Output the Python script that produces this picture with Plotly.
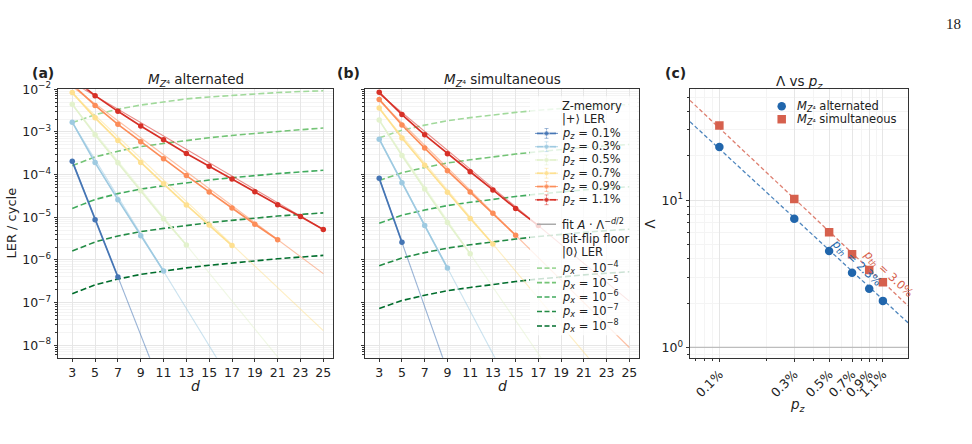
import plotly.graph_objects as go
import numpy as np

W, H = 972, 444
FONT = "DejaVu Sans"

# ---------------- data ----------------
d_vals = [3, 5, 7, 9, 11, 13, 15, 17, 19, 21, 23, 25]
pz_labels = ["0.1%", "0.3%", "0.5%", "0.7%", "0.9%", "1.1%"]
pz_colors = ["#4575b4", "#9ecae1", "#e3f2cd", "#fee090", "#fc8d59", "#d73027"]

# panel (a): M_Z4 alternated, LER per cycle (data points start at d=3)
alt_p01 = [2.05e-4, 8.8e-6, 4.0e-7]
alt_p03 = [1.7e-3, 1.92e-4, 2.6e-5, 3.7e-6, 5.5e-7]
alt_p05 = [4.5e-3, 8.6e-4, 1.89e-4, 4.2e-5, 9.3e-6, 2.25e-6]
alt_p07 = [8.4e-3, 2.15e-3, 6.3e-4, 1.92e-4, 6.1e-5, 1.95e-5, 6.6e-6, 2.18e-6]
alt_p09 = [1.3e-2, 4.2e-3, 1.51e-3, 5.9e-4, 2.37e-4, 9.5e-5, 3.9e-5, 1.65e-5, 6.9e-6, 2.98e-6]
alt_p11 = [1.9e-2, 7.1e-3, 3.05e-3, 1.38e-3, 6.6e-4, 3.14e-4, 1.58e-4, 7.9e-5, 4.0e-5, 1.97e-5, 1.04e-5, 5.2e-6]
# fit A*Lambda^(-d/2), values at d=3 and d=25
alt_fit_d3 = [2.14e-4, 1.7e-3, 4.3e-3, 7.9e-3, 1.15e-2, 1.45e-2]
alt_fit_d25 = [2.2e-19, 4.2e-13, 2.6e-10, 2.2e-8, 4.8e-7, 5.2e-6]

# panel (b): M_Z4 simultaneous
sim_p01 = [8.2e-5, 2.6e-6]
sim_p03 = [6.8e-4, 6.5e-5, 6.4e-6, 6.5e-7]
sim_p05 = [1.9e-3, 2.8e-4, 4.6e-5, 7.6e-6, 1.4e-6]
sim_p07 = [3.65e-3, 7.2e-4, 1.66e-4, 3.85e-5, 9.4e-6, 2.37e-6]
sim_p09 = [5.8e-3, 1.46e-3, 4.2e-4, 1.24e-4, 3.9e-5, 1.24e-5, 3.8e-6]
sim_p11 = [8.5e-3, 2.56e-3, 8.6e-4, 3.1e-4, 1.17e-4, 4.4e-5, 1.62e-5, 6.4e-6]
sim_fit_d3 = [8.3e-5, 6.9e-4, 1.87e-3, 3.5e-3, 5.5e-3, 7.9e-3]
sim_fit_d25 = [2.2e-21, 5.6e-15, 4.7e-12, 3.7e-10, 8.9e-9, 1.09e-7]

# bit-flip floor |0> LER
px_labels = ["10<sup>−4</sup>", "10<sup>−5</sup>", "10<sup>−6</sup>", "10<sup>−7</sup>", "10<sup>−8</sup>"]
px_colors = ["#a1d99b", "#74c476", "#41ab5d", "#238b45", "#006d2c"]
alt_floor_1e4 = [1.66e-3, 2.55e-3, 3.42e-3, 4.28e-3, 5.05e-3, 5.97e-3, 6.62e-3, 7.26e-3, 7.83e-3, 8.41e-3, 8.89e-3, 9.25e-3]
alt_floor_1e5 = [1.62e-4, 2.6e-4, 3.55e-4, 4.55e-4, 5.4e-4, 6.4e-4, 7.35e-4, 8.3e-4, 9.3e-4, 1.03e-3, 1.13e-3, 1.24e-3]
alt_floor_1e6 = [1.62e-5, 2.62e-5, 3.6e-5, 4.6e-5, 5.5e-5, 6.5e-5, 7.5e-5, 8.5e-5, 9.6e-5, 1.06e-4, 1.16e-4, 1.27e-4]
alt_floor_1e7 = [1.62e-6, 2.65e-6, 3.65e-6, 4.62e-6, 5.5e-6, 6.55e-6, 7.5e-6, 8.5e-6, 9.6e-6, 1.07e-5, 1.17e-5, 1.27e-5]
alt_floor_1e8 = [1.62e-7, 2.61e-7, 3.58e-7, 4.59e-7, 5.47e-7, 6.55e-7, 7.52e-7, 8.53e-7, 9.64e-7, 1.07e-6, 1.17e-6, 1.28e-6]
sim_floor_1e4 = [7.3e-4, 1.10e-3, 1.45e-3, 1.84e-3, 2.17e-3, 2.52e-3, 2.88e-3, 3.23e-3, 3.59e-3, 3.89e-3, 4.17e-3, 4.41e-3]
sim_floor_1e5 = [7.3e-5, 1.11e-4, 1.47e-4, 1.88e-4, 2.23e-4, 2.65e-4, 3.04e-4, 3.47e-4, 3.9e-4, 4.32e-4, 4.72e-4, 5.1e-4]
sim_floor_1e6 = [7.3e-6, 1.12e-5, 1.48e-5, 1.89e-5, 2.25e-5, 2.68e-5, 3.08e-5, 3.52e-5, 3.97e-5, 4.4e-5, 4.82e-5, 5.2e-5]
sim_floor_1e7 = [7.3e-7, 1.12e-6, 1.49e-6, 1.9e-6, 2.27e-6, 2.7e-6, 3.1e-6, 3.55e-6, 4.0e-6, 4.45e-6, 4.87e-6, 5.27e-6]
sim_floor_1e8 = [7.3e-8, 1.12e-7, 1.49e-7, 1.91e-7, 2.27e-7, 2.7e-7, 3.12e-7, 3.58e-7, 4.03e-7, 4.47e-7, 4.9e-7, 5.3e-7]

# panel (c): Lambda vs p_z
pz_pct = [0.1, 0.3, 0.5, 0.7, 0.9, 1.1]
lam_alt = [23.0, 7.47, 4.52, 3.21, 2.50, 2.07]
lam_sim = [32.1, 10.2, 6.05, 4.30, 3.36, 2.77]
fit_pz = [0.065, 1.59]
fit_lam_alt = [34.1, 1.47]
fit_lam_sim = [47.6, 1.92]
C_ALT, C_SIM = "#2166ac", "#d6604d"

alt_series = [alt_p01, alt_p03, alt_p05, alt_p07, alt_p09, alt_p11]
sim_series = [sim_p01, sim_p03, sim_p05, sim_p07, sim_p09, sim_p11]
alt_floors = [alt_floor_1e4, alt_floor_1e5, alt_floor_1e6, alt_floor_1e7, alt_floor_1e8]
sim_floors = [sim_floor_1e4, sim_floor_1e5, sim_floor_1e6, sim_floor_1e7, sim_floor_1e8]


def px_x(x):
    return x / W


def px_y(y):
    return 1 - y / H


def hexa(c, a):
    c = c.lstrip("#")
    return "rgba(%d,%d,%d,%.2f)" % (int(c[0:2], 16), int(c[2:4], 16), int(c[4:6], 16), a)


fig = go.Figure()

# ---------------- panels (a) and (b) ----------------
for xa, ya, series, fit3, fit25, floors in [
    ("x", "y", alt_series, alt_fit_d3, alt_fit_d25, alt_floors),
    ("x2", "y2", sim_series, sim_fit_d3, sim_fit_d25, sim_floors),
]:
    for fl, col in zip(floors, px_colors):
        fig.add_trace(go.Scatter(x=d_vals, y=fl, mode="lines", xaxis=xa, yaxis=ya,
                                 line=dict(color=col, width=1.6, dash="6px,3px"),
                                 showlegend=False, hoverinfo="skip"))
    for i, col in enumerate(pz_colors):
        fig.add_trace(go.Scatter(x=[d_vals[0], d_vals[-1]], y=[fit3[i], fit25[i]], mode="lines",
                                 xaxis=xa, yaxis=ya, line=dict(color=hexa(col, 0.55), width=1.1),
                                 showlegend=False, hoverinfo="skip"))
    for i, col in enumerate(pz_colors):
        s = series[i]
        fig.add_trace(go.Scatter(x=d_vals[:len(s)], y=s, mode="lines+markers", xaxis=xa, yaxis=ya,
                                 line=dict(color=col, width=1.7), marker=dict(color=col, size=5.5),
                                 showlegend=False))

# ---------------- panel (c) ----------------
fig.add_trace(go.Scatter(x=fit_pz, y=fit_lam_alt, mode="lines", xaxis="x3", yaxis="y3",
                         line=dict(color=hexa(C_ALT, 0.8), width=1.3, dash="4px,2.5px"),
                         showlegend=False, hoverinfo="skip"))
fig.add_trace(go.Scatter(x=fit_pz, y=fit_lam_sim, mode="lines", xaxis="x3", yaxis="y3",
                         line=dict(color=hexa(C_SIM, 0.8), width=1.3, dash="4px,2.5px"),
                         showlegend=False, hoverinfo="skip"))
fig.add_trace(go.Scatter(x=[fit_pz[0], fit_pz[-1]], y=[1, 1], mode="lines", xaxis="x3", yaxis="y3",
                         line=dict(color="#bdbdbd", width=1.3), showlegend=False, hoverinfo="skip"))
fig.add_trace(go.Scatter(x=pz_pct, y=lam_alt, mode="markers", xaxis="x3", yaxis="y3",
                         marker=dict(color=C_ALT, size=8.5, symbol="circle"), showlegend=False))
fig.add_trace(go.Scatter(x=pz_pct, y=lam_sim, mode="markers", xaxis="x3", yaxis="y3",
                         marker=dict(color=C_SIM, size=8.5, symbol="square"), showlegend=False))

# ---------------- manual legends on a pixel overlay axis ----------------
ann = []
TXT = dict(family=FONT, size=11.5, color="#222")

# legend background of panel (b)
fig.add_trace(go.Scatter(x=[530, 637, 637, 530, 530], y=[89, 89, 333, 333, 89], mode="lines",
                         fill="toself", fillcolor="rgba(255,255,255,0.8)", line=dict(width=0),
                         xaxis="x4", yaxis="y4", showlegend=False, hoverinfo="skip"))
lx0, lx1, ltx = 537, 556, 560
lxm = (lx0 + lx1) / 2
ann.append(dict(x=ltx, y=98.5, text="Z-memory", xref="x4", yref="y4", xanchor="left", yanchor="middle",
                showarrow=False, font=TXT))
ann.append(dict(x=ltx, y=112, text="|+⟩ LER", xref="x4", yref="y4", xanchor="left", yanchor="middle",
                showarrow=False, font=TXT))
for i, (lab, col) in enumerate(zip(pz_labels, pz_colors)):
    yy = 127 + i * 13.55
    fig.add_trace(go.Scatter(x=[lx0, lxm, lx1], y=[yy, yy, yy], mode="lines+markers",
                             line=dict(color=col, width=1.7), marker=dict(color=col, size=[0, 5.5, 0]),
                             error_y=dict(type="data", array=[0, 5, 0], color=hexa(col, 0.5), thickness=1, width=2),
                             xaxis="x4", yaxis="y4", showlegend=False, hoverinfo="skip"))
    ann.append(dict(x=ltx, y=yy, text="<i>p</i><sub><i>z</i></sub> = " + lab, xref="x4", yref="y4",
                    xanchor="left", yanchor="middle", showarrow=False, font=TXT))
fig.add_trace(go.Scatter(x=[lx0, lx1], y=[219.7, 219.7], mode="lines", line=dict(color="#aaaaaa", width=1.5),
                         xaxis="x4", yaxis="y4", showlegend=False, hoverinfo="skip"))
ann.append(dict(x=ltx, y=219.7, text="fit <i>A</i> · Λ<sup>−<i>d</i>/2</sup>", xref="x4", yref="y4",
                xanchor="left", yanchor="middle", showarrow=False, font=TXT))
ann.append(dict(x=ltx, y=234.5, text="Bit-flip floor", xref="x4", yref="y4", xanchor="left",
                yanchor="middle", showarrow=False, font=TXT))
ann.append(dict(x=ltx, y=248.5, text="|0⟩ LER", xref="x4", yref="y4", xanchor="left",
                yanchor="middle", showarrow=False, font=TXT))
for i, (lab, col) in enumerate(zip(px_labels, px_colors)):
    yy = 264.5 + i * 14.75
    fig.add_trace(go.Scatter(x=[lx0, lx1], y=[yy, yy], mode="lines",
                             line=dict(color=col, width=1.6, dash="5px,2.5px"),
                             xaxis="x4", yaxis="y4", showlegend=False, hoverinfo="skip"))
    ann.append(dict(x=ltx, y=yy, text="<i>p</i><sub><i>x</i></sub> = " + lab, xref="x4", yref="y4",
                    xanchor="left", yanchor="middle", showarrow=False, font=TXT))

# legend of panel (c)
for yy, col, sym, lab in [(99.3, C_ALT, "circle", "<i>M</i><sub><i>Z</i>⁴</sub> alternated"),
                          (112.5, C_SIM, "square", "<i>M</i><sub><i>Z</i>⁴</sub> simultaneous")]:
    fig.add_trace(go.Scatter(x=[781.7], y=[yy], mode="markers", marker=dict(color=col, size=8.5, symbol=sym),
                             xaxis="x4", yaxis="y4", showlegend=False, hoverinfo="skip"))
    ann.append(dict(x=795, y=yy, text=lab, xref="x4", yref="y4", xanchor="left", yanchor="middle",
                    showarrow=False, font=TXT))

# ---------------- axes ----------------
GRID = "#e6e6e6"
MGRID = "#f4f4f4"
base = dict(showline=True, linecolor="#333", linewidth=1, mirror=True, ticks="outside", ticklen=3.5,
            tickcolor="#333", tickfont=dict(family=FONT, size=12.5, color="#222"), showgrid=True,
            gridcolor=GRID, gridwidth=1, zeroline=False)
ydom = [px_y(356), px_y(82)]
y_major = [1e-8, 1e-7, 1e-6, 1e-5, 1e-4, 1e-3, 1e-2]
y_major_txt = ["10<sup>−8</sup>", "10<sup>−7</sup>", "10<sup>−6</sup>", "10<sup>−5</sup>",
               "10<sup>−4</sup>", "10<sup>−3</sup>", "10<sup>−2</sup>"]
y_minor = [m * 10.0 ** e for e in range(-9, -2) for m in range(2, 10)]
yminor = dict(tickvals=y_minor, ticks="outside", ticklen=2, tickcolor="#333", showgrid=True,
              gridcolor=MGRID, gridwidth=0.8)
xd = dict(base, tickmode="array", tickvals=d_vals, range=[1.75, 25.85])
ylog = dict(base, type="log", range=[-8.292, -2], tickmode="array", tickvals=y_major, ticktext=y_major_txt,
            domain=ydom, minor=yminor)

c_xminor = [m * 10.0 ** e for e in (-2, -1, 0) for m in range(1, 10)]
c_yminor = [m * 10.0 ** e for e in (-1, 0, 1) for m in range(2, 10)]

fig.update_layout(
    width=W, height=H, margin=dict(l=0, r=0, t=0, b=0),
    paper_bgcolor="white", plot_bgcolor="rgba(0,0,0,0)",
    font=dict(family=FONT, color="#222"),
    xaxis=dict(xd, domain=[px_x(58), px_x(333)], anchor="y"),
    yaxis=dict(ylog, anchor="x"),
    xaxis2=dict(xd, domain=[px_x(365), px_x(639)], anchor="y2"),
    yaxis2=dict(ylog, anchor="x2", showticklabels=False),
    xaxis3=dict(base, type="log", domain=[px_x(690), px_x(908)], anchor="y3",
                range=[np.log10(0.065), np.log10(1.59)], tickmode="array", tickvals=pz_pct,
                ticktext=pz_labels, tickangle=-45,
                minor=dict(tickvals=c_xminor, ticks="outside", ticklen=2, tickcolor="#333",
                           showgrid=True, gridcolor=MGRID, gridwidth=0.8)),
    yaxis3=dict(base, type="log", domain=ydom, anchor="x3", range=[np.log10(0.85), np.log10(56.6)],
                tickmode="array", tickvals=[1, 10], ticktext=["10<sup>0</sup>", "10<sup>1</sup>"],
                minor=dict(tickvals=c_yminor, ticks="outside", ticklen=2, tickcolor="#333",
                           showgrid=True, gridcolor=MGRID, gridwidth=0.8)),
    xaxis4=dict(domain=[0, 1], range=[0, W], visible=False, fixedrange=True, anchor="y4"),
    yaxis4=dict(domain=[0, 1], range=[H, 0], visible=False, fixedrange=True, anchor="x4"),
    showlegend=False,
)

# ---------------- titles, labels ----------------
def pann(x, y, text, size=12.5, angle=0, color="#222", family=FONT):
    return dict(x=px_x(x), y=px_y(y), xref="paper", yref="paper", text=text, showarrow=False,
                xanchor="center", yanchor="middle", textangle=angle,
                font=dict(family=family, size=size, color=color))


ann += [
    pann(42.5, 65, "<b>(a)</b>", 14),
    pann(348, 65, "<b>(b)</b>", 14),
    pann(675, 65, "<b>(c)</b>", 14),
    pann(195.5, 72.5, "<i>M</i><sub><i>Z</i>⁴</sub> alternated", 13.5),
    pann(502, 72.5, "<i>M</i><sub><i>Z</i>⁴</sub> simultaneous", 13.5),
    pann(799, 74.5, "Λ vs <i>p</i><sub><i>z</i></sub>", 13.5),
    pann(12, 219, "LER / cycle", 13, -90),
    pann(650, 219, "Λ", 13.5, -90),
    pann(195.5, 385, "<i>d</i>", 14),
    pann(502, 385, "<i>d</i>", 14),
    pann(798, 404, "<i>p</i><sub><i>z</i></sub>", 13.5),
    pann(856, 259, "<i>p</i><sub><i>th</i></sub> = 2.3%", 11.5, 43, C_ALT),
    pann(888, 270, "<i>p</i><sub><i>th</i></sub> = 3.0%", 11.5, 43, C_SIM),
    pann(953, 15, "18", 15, 0, "#222", "Liberation Serif"),
]
fig.update_layout(annotations=ann)

fig.write_html("out.html")
